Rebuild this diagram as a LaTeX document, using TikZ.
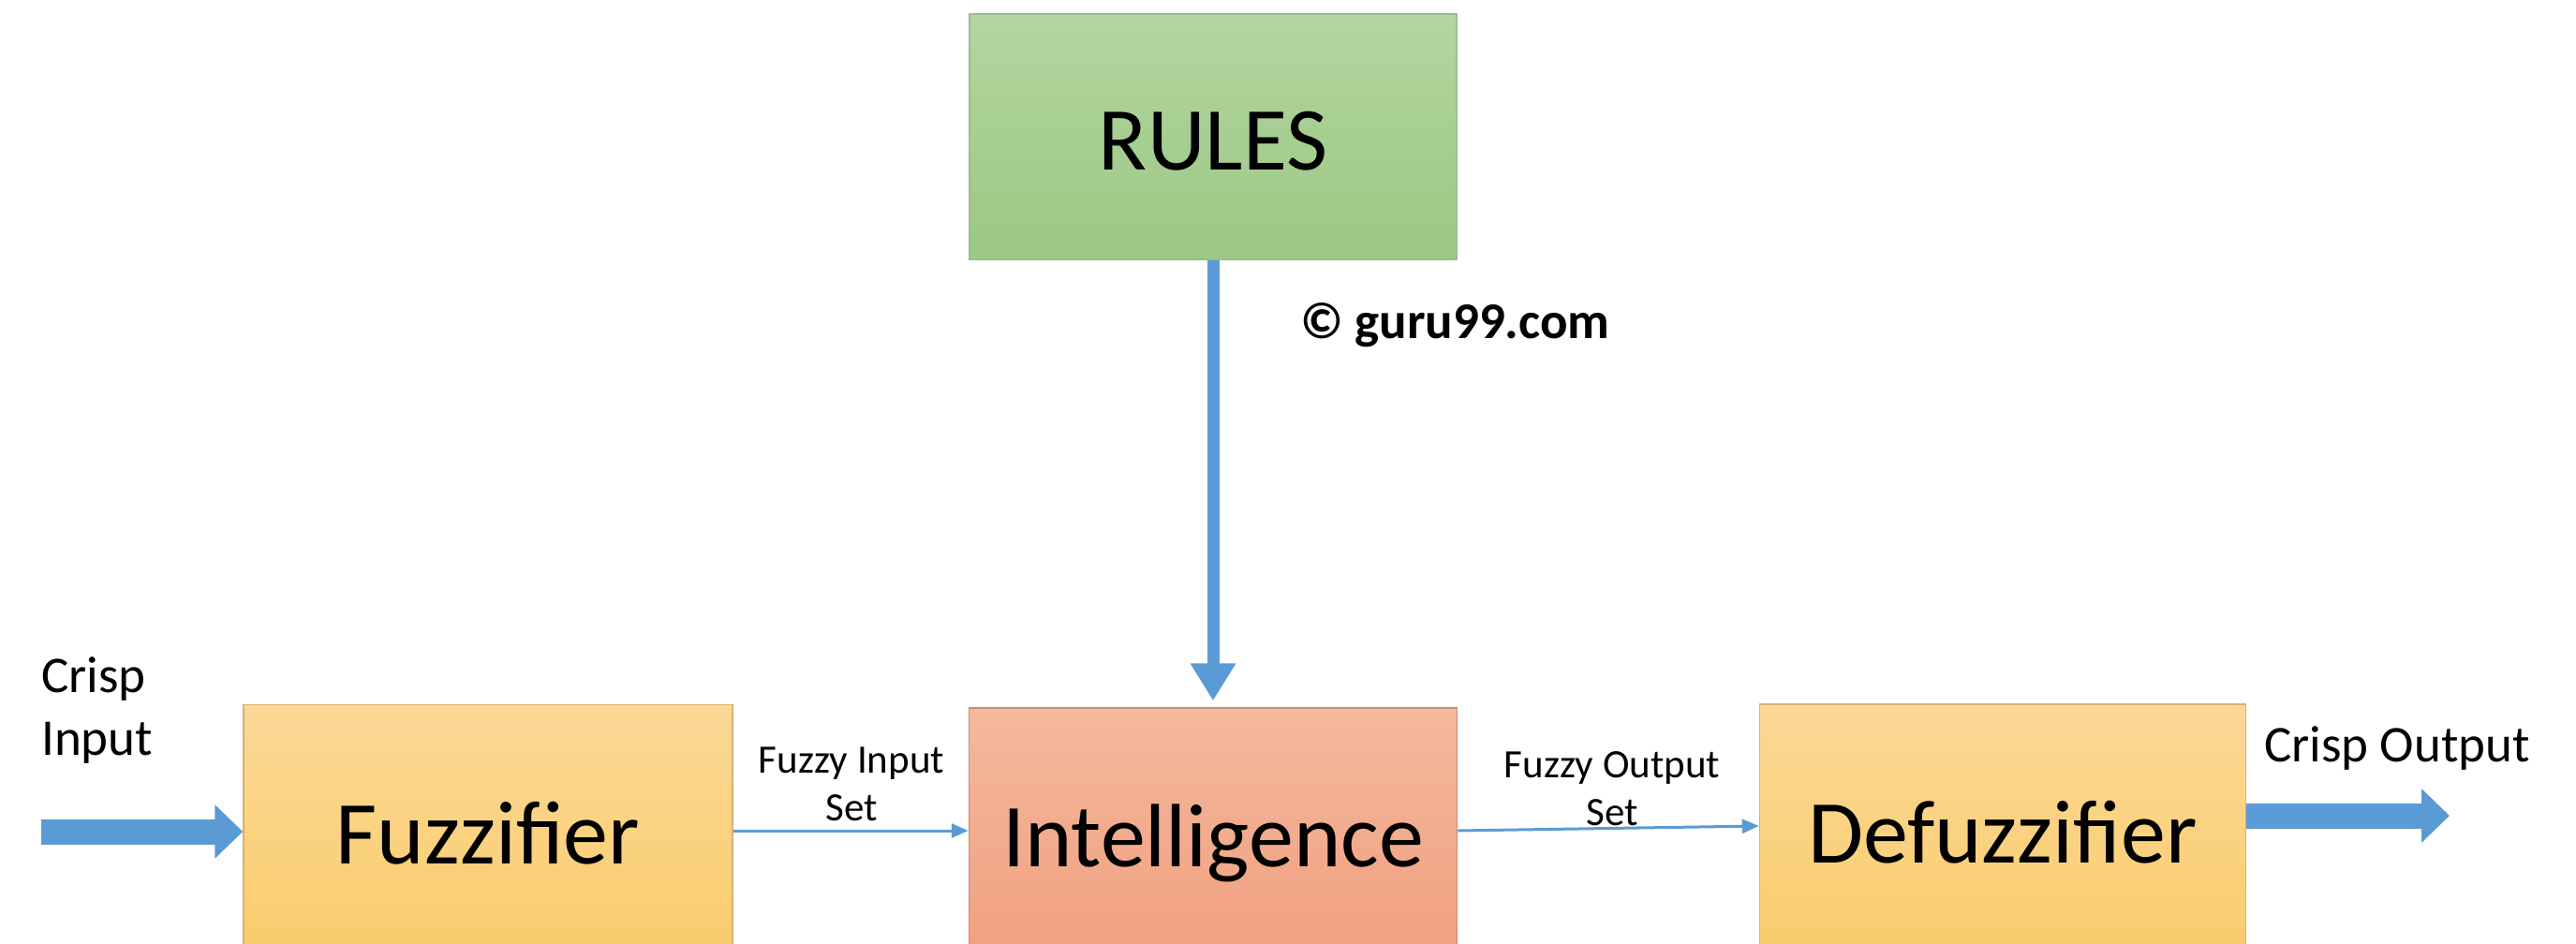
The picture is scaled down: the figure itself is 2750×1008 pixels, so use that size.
\documentclass[tikz,border=0pt]{standalone}
\usepackage{fontspec}
\setmainfont{Carlito}
\usetikzlibrary{arrows.meta}
\definecolor{arrowblue}{HTML}{5B9BD5}
\definecolor{rulestop}{HTML}{B3D5A0}
\definecolor{rulesbot}{HTML}{9BC884}
\definecolor{rulesedge}{HTML}{9ABF87}
\definecolor{orgtop}{HTML}{FCD897}
\definecolor{orgbot}{HTML}{F9CC6A}
\definecolor{orgedge}{HTML}{D8B072}
\definecolor{inttop}{HTML}{F4B89E}
\definecolor{intbot}{HTML}{F09E7C}
\definecolor{intedge}{HTML}{C98D72}
\tikzset{
  blockbox/.style={draw, line width=1.5pt, inner sep=0pt,
    font=\fontsize{96}{115}\selectfont},
  smalllabel/.style={inner sep=0pt, align=center,
    font=\fontsize{43}{51}\selectfont},
  biglabel/.style={inner sep=0pt, align=left,
    font=\fontsize{55}{67}\selectfont},
  thickarrow/.style={draw=arrowblue, line width=27pt,
    -{Triangle[length=30pt,width=56pt]}},
  rulearrow/.style={draw=arrowblue, line width=13pt,
    -{Triangle[length=40pt,width=46pt]}},
  thinarrow/.style={draw=arrowblue, line width=3pt,
    -{Triangle[length=18pt,width=15pt]}}
}
\begin{document}
\begin{tikzpicture}[x=1pt,y=-1pt]
\useasboundingbox (0,0) rectangle (2750,1008);
\fill[white] (0,0) rectangle (2750,1008);
\begin{scope}
\clip (0,0) rectangle (2750,1008);
\node[blockbox, draw=rulesedge, top color=rulestop, bottom color=rulesbot,
  text height=72pt, text depth=0pt,
  minimum width=520pt, minimum height=262pt] (rules) at (1295,146) {RULES};
\node[blockbox, draw=orgedge, top color=orgtop, bottom color=orgbot,
  minimum width=522pt, minimum height=275pt] (fuzz) at (521,890) {Fuzzifier};
\node[blockbox, draw=intedge, top color=inttop, bottom color=intbot,
  minimum width=521pt, minimum height=288pt] (intel) at (1295,900) {Intelligence};
\node[blockbox, draw=orgedge, top color=orgtop, bottom color=orgbot,
  minimum width=519pt, minimum height=274pt] (defuzz) at (2138,889) {Defuzzifier};
\end{scope}

\node[biglabel, anchor=north west] (cinlabel) at (44,701) {Crisp\\Input};
\node[biglabel, anchor=base] (coutlabel) at (2559,813) {Crisp Output};
\node[smalllabel, anchor=north] (filabel) at (909,798) {Fuzzy Input\\Set};
\node[smalllabel, anchor=north] (folabel) at (1721,802) {Fuzzy Output\\Set};
\node[inner sep=0pt, anchor=base west, font=\fontsize{55}{64}\selectfont\bfseries]
  (copy) at (1388,362) {© guru99.com};

\coordinate (cin) at (44,888);
\coordinate (cout) at (2615,871);
\coordinate (lvA) at (0,887);
\coordinate (lvB) at (0,882);

\draw[thickarrow] (cin) -- (cin -| fuzz.west);
\draw[thickarrow] (defuzz.east |- cout) -- (cout);
\draw[rulearrow, shorten >=7pt] (rules.south) -- (intel.north);
\draw[thinarrow] (fuzz.east |- lvA) -- (intel.west |- lvA);
\draw[thinarrow] (intel.east |- lvA) -- (defuzz.west |- lvB);
\end{tikzpicture}
\end{document}
